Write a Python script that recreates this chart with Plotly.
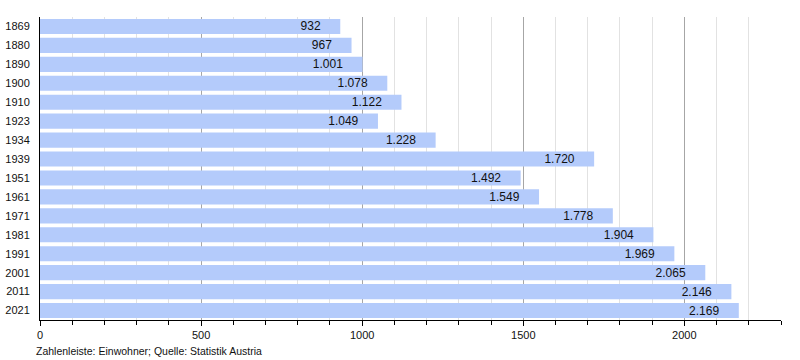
import plotly.graph_objects as go

years = ["1869", "1880", "1890", "1900", "1910", "1923", "1934", "1939", "1951", "1961",
         "1971", "1981", "1991", "2001", "2011", "2021"]
population = [932, 967, 1001, 1078, 1122, 1049, 1228, 1720, 1492, 1549,
              1778, 1904, 1969, 2065, 2146, 2169]

NBSP = "\u00a0"

def de_fmt(v):
    return f"{v:,}".replace(",", ".")

labels = [de_fmt(v) + NBSP * 5 for v in population]

fig = go.Figure()
fig.add_trace(go.Bar(
    y=years, x=population, orientation="h",
    marker=dict(color="#b4cbfb", line=dict(width=0)),
    width=0.8, hoverinfo="skip",
    text=labels, textposition="inside", insidetextanchor="end",
    constraintext="none", cliponaxis=False,
    insidetextfont=dict(family="Liberation Sans, Arial", size=12, color="#111"),
))

fig.add_annotation(x=0, y=0, xref="paper", yref="paper", xanchor="left", yanchor="top",
                   xshift=-6, yshift=-23,
                   text="Zahlenleiste: Einwohner; Quelle: Statistik Austria", showarrow=False,
                   font=dict(family="Liberation Sans, Arial", size=10.5, color="#111"))

fig.update_layout(
    width=800, height=360,
    margin=dict(l=40, r=19, t=17, b=40, autoexpand=False),
    paper_bgcolor="white", plot_bgcolor="white",
    showlegend=False, bargap=0.2,
    font=dict(family="Liberation Sans, Arial", size=11, color="#111"),
    xaxis=dict(range=[0, 2300], dtick=500, tick0=0, showgrid=True, gridcolor="#a6a6a6",
               gridwidth=1, zeroline=False, showline=True, linecolor="black", linewidth=1,
               ticks="outside", ticklen=5, tickcolor="black", automargin=False,
               minor=dict(dtick=100, showgrid=True, gridcolor="#e2e2e2", ticks="outside",
                          ticklen=4, tickcolor="black"),
               tickfont=dict(size=11)),
    yaxis=dict(type="category", autorange="reversed", showline=True, linecolor="black",
               linewidth=1, automargin=False,
               ticks="", showgrid=False, ticklabelstandoff=7, tickfont=dict(size=11)),
)

fig.write_html("out.html", config={"displayModeBar": False},
               post_script="document.body.style.margin='0';")
